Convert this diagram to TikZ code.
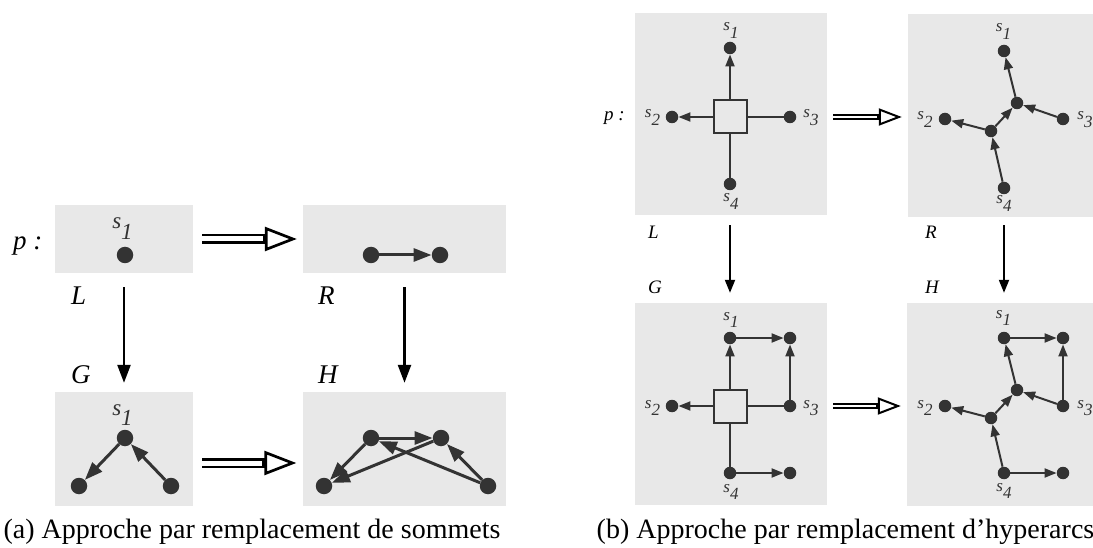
\documentclass[tikz,border=0pt]{standalone}
\usepackage{fontspec}
\setmainfont{Liberation Serif}
\usetikzlibrary{arrows.meta,positioning}
\definecolor{panelgray}{HTML}{E8E8E8}
\definecolor{inkgray}{HTML}{333333}
\newcommand{\sv}[1]{\textit{s}\raisebox{-0.95ex}{\textit{#1}}}

\begin{document}
\begin{tikzpicture}[
    x=1pt, y=-1pt,
    panel/.style={fill=panelgray, inner sep=0pt},
    bigdot/.style={circle, fill=inkgray, inner sep=0pt, minimum size=16.5pt},
    dot/.style={circle, fill=inkgray, inner sep=0pt, minimum size=12.5pt},
    hedge/.style={draw=inkgray, line width=2pt, inner sep=0pt, minimum size=33pt},
    bigedge/.style={draw=inkgray, line width=3pt, -{Triangle[length=18pt, width=13pt]}},
    edge/.style={draw=inkgray, line width=2pt, -{Triangle[length=12pt, width=9pt]}},
    link/.style={draw=inkgray, line width=2pt},
    bigmorph/.style={line width=2.5pt, -{Triangle[length=18pt, width=13pt]}},
    morph/.style={line width=2pt, -{Triangle[length=13pt, width=10pt]}},
    bigrule/.style={line width=10.5pt, shorten <=9pt, shorten >=6pt,
        -{Triangle[open, length=32pt, width=24pt, line width=2.7pt]},
        postaction={draw=white, line width=5pt, arrows=-, shorten >=40pt}},
    rule/.style={line width=6.5pt, shorten <=6pt, shorten >=6pt,
        -{Triangle[open, length=23pt, width=17pt, line width=2pt]},
        postaction={draw=white, line width=2.5pt, arrows=-, shorten >=31pt}},
    biglab/.style={font=\fontsize{27}{30}\selectfont\itshape, inner sep=0pt},
    lab/.style={font=\fontsize{19}{22}\selectfont\itshape, inner sep=0pt},
    bigsv/.style={font=\fontsize{23}{26}\selectfont, text=inkgray, inner sep=0pt, anchor=base},
    sv/.style={font=\fontsize{17}{20}\selectfont, text=inkgray, inner sep=0pt, anchor=base},
    caption/.style={font=\fontsize{28}{32}\selectfont, inner sep=0pt, anchor=base}
]
\useasboundingbox (0,0) rectangle (1093,548);

% (a) vertex replacement
\node[panel, minimum width=138pt, minimum height=68pt] (La) at (124,239) {};
\node[panel, minimum width=203pt, minimum height=68pt] (Ra) at (404.5,239) {};
\node[panel, minimum width=138pt, minimum height=114pt] (Ga) at (124,449) {};
\node[panel, minimum width=203pt, minimum height=114pt] (Ha) at (404,449) {};

\node[biglab, anchor=base west] (pa) at (13,249.5) {p :};
\node[biglab, anchor=base west] (lLa) at (71,305) {L};
\node[biglab, anchor=base west] (lRa) at (318,305) {R};
\node[biglab, anchor=base west] (lGa) at (71,383) {G};
\node[biglab, anchor=base west] (lHa) at (318,383) {H};

\node[bigdot] (la1) at (125,255) {};
\node[bigsv] (tla1) at (122.5,229) {\sv{1}};

\node[bigdot] (ra1) at (371,255) {};
\node[bigdot] (ra2) at (440,255) {};
\draw[bigedge] (ra1) -- (ra2);

\node[bigdot] (ga1) at (125,438) {};
\node[bigdot] (ga2) at (79,486) {};
\node[bigdot] (ga3) at (171,486) {};
\node[bigsv] (tga1) at (122.5,415) {\sv{1}};
\draw[bigedge] (ga1) -- (ga2);
\draw[bigedge] (ga3) -- (ga1);

\node[bigdot] (ha1) at (371,438) {};
\node[bigdot] (ha2) at (441,438) {};
\node[bigdot] (ha3) at (324,486) {};
\node[bigdot] (ha4) at (488,486) {};
\draw[bigedge] (ha1) -- (ha2);
\draw[bigedge] (ha1) -- (ha3);
\draw[bigedge] (ha2) -- (ha3);
\draw[bigedge] (ha4) -- (ha2);
\draw[bigedge] (ha4) -- (ha1);

\draw[bigrule] (La.east) -- (La.east -| Ra.west);
\draw[bigrule] ([yshift=-14pt]Ga.east) -- ([yshift=-14pt]Ga.east -| Ha.west);
\draw[bigmorph, shorten <=14pt, shorten >=9pt] (La) -- (Ga);
\draw[bigmorph, shorten <=14pt, shorten >=9pt] (Ra.south) -- (Ra.south |- Ha.north);

\node[caption] (capa) at (252,538) {(a) Approche par remplacement de sommets};

% (b) hyperarc replacement
\node[panel, minimum width=192pt, minimum height=202pt] (Lb) at (731,114) {};
\node[panel, minimum width=185pt, minimum height=203pt] (Rb) at (1000.5,115.5) {};
\node[panel, minimum width=192pt, minimum height=202pt] (Gb) at (731,404) {};
\node[panel, minimum width=186pt, minimum height=203pt] (Hb) at (1000,404.5) {};

\node[lab, anchor=base west] (pb) at (604,120.5) {p :};
\node[lab, anchor=base west] (lLb) at (648,239) {L};
\node[lab, anchor=base west] (lRb) at (925,239) {R};
\node[lab, anchor=base west] (lGb) at (648,294) {G};
\node[lab, anchor=base west] (lHb) at (925,294) {H};

% L
\node[hedge] (lsq) at (730,117) {};
\node[dot] (ls1) at (730,48) {};
\node[dot] (ls2) at (672,117) {};
\node[dot] (ls3) at (790,117) {};
\node[dot] (ls4) at (730,184) {};
\node[sv] (tls1) at (731,31) {\sv{1}};
\node[sv] (tls2) at (652.5,118) {\sv{2}};
\node[sv] (tls3) at (811,118) {\sv{3}};
\node[sv] (tls4) at (731,202) {\sv{4}};
\draw[edge] (lsq) -- (ls1);
\draw[edge] (lsq) -- (ls2);
\draw[link] (lsq) -- (ls3);
\draw[link] (lsq) -- (ls4);

% R
\node[dot] (rs1) at (1004,51) {};
\node[dot] (rc1) at (1017,103) {};
\node[dot] (rc2) at (991,131) {};
\node[dot] (rs2) at (945,119) {};
\node[dot] (rs3) at (1063,119) {};
\node[dot] (rs4) at (1004,188) {};
\node[sv] (trs1) at (1003.5,32) {\sv{1}};
\node[sv] (trs2) at (925,120) {\sv{2}};
\node[sv] (trs3) at (1085,120) {\sv{3}};
\node[sv] (trs4) at (1004,204) {\sv{4}};
\draw[edge] (rc1) -- (rs1);
\draw[edge] (rc2) -- (rs2);
\draw[edge] (rc2) -- (rc1);
\draw[edge] (rs3) -- (rc1);
\draw[edge] (rs4) -- (rc2);

% G
\node[hedge] (gsq) at (730,406) {};
\node[dot] (gs1) at (730,338) {};
\node[dot] (gt) at (790,338) {};
\node[dot] (gs2) at (672,406) {};
\node[dot] (gs3) at (790,406) {};
\node[dot] (gs4) at (730,473) {};
\node[dot] (gb) at (790,473) {};
\node[sv] (tgs1) at (731,320) {\sv{1}};
\node[sv] (tgs2) at (652.5,408) {\sv{2}};
\node[sv] (tgs3) at (811,408) {\sv{3}};
\node[sv] (tgs4) at (731,492) {\sv{4}};
\draw[edge] (gsq) -- (gs1);
\draw[edge] (gsq) -- (gs2);
\draw[link] (gsq) -- (gs3);
\draw[link] (gsq) -- (gs4);
\draw[edge] (gs1) -- (gt);
\draw[edge] (gs3) -- (gt);
\draw[edge] (gs4) -- (gb);

% H
\node[dot] (hs1) at (1004,338) {};
\node[dot] (ht) at (1063,338) {};
\node[dot] (hc1) at (1017,390) {};
\node[dot] (hc2) at (991,418) {};
\node[dot] (hs2) at (945,406) {};
\node[dot] (hs3) at (1063,406) {};
\node[dot] (hs4) at (1004,473) {};
\node[dot] (hb) at (1063,473) {};
\node[sv] (ths1) at (1003.5,318) {\sv{1}};
\node[sv] (ths2) at (925,408) {\sv{2}};
\node[sv] (ths3) at (1085,408) {\sv{3}};
\node[sv] (ths4) at (1004,491) {\sv{4}};
\draw[edge] (hc1) -- (hs1);
\draw[edge] (hc2) -- (hs2);
\draw[edge] (hc2) -- (hc1);
\draw[edge] (hs3) -- (hc1);
\draw[edge] (hs4) -- (hc2);
\draw[edge] (hs1) -- (ht);
\draw[edge] (hs3) -- (ht);
\draw[edge] (hs4) -- (hb);

\draw[rule] (Lb.east |- ls3) -- (Rb.west |- ls3);
\draw[rule] (Gb.east |- gs3) -- (Hb.west |- gs3);
\draw[morph, shorten <=10pt, shorten >=10pt] (Lb.south -| ls1) -- (Gb.north -| ls1);
\draw[morph, shorten <=8pt, shorten >=10pt] (Rb.south -| rs1) -- (Hb.north -| rs1);

\node[caption] (capb) at (845.5,538) {(b) Approche par remplacement d’hyperarcs};
\end{tikzpicture}
\end{document}
